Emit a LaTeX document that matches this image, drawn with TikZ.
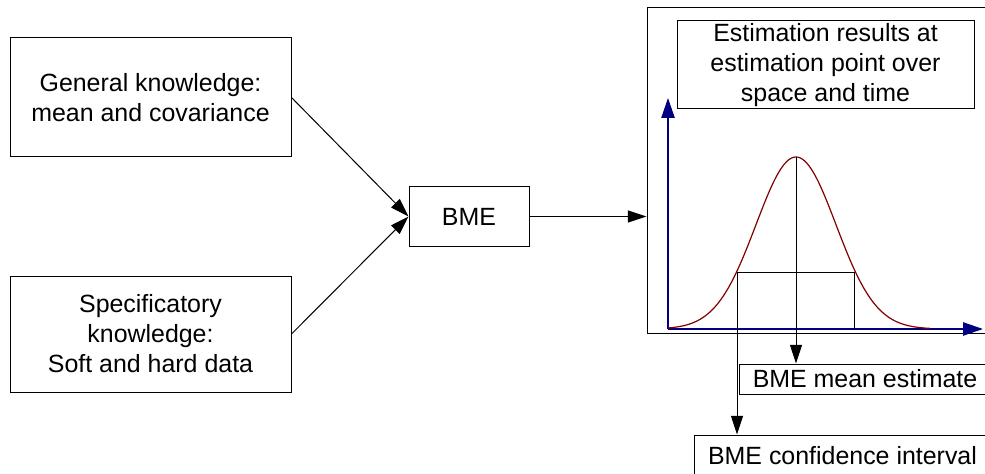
\documentclass[tikz,border=0pt]{standalone}
\usepackage{fontspec}
\setmainfont{Liberation Sans}
\usetikzlibrary{arrows.meta}
\definecolor{axisblue}{RGB}{0,0,128}
\definecolor{curvered}{RGB}{128,0,0}

\begin{document}
\begin{tikzpicture}[x=0.75pt,y=-0.75pt,
  box/.style={draw,line width=0.75pt,align=center,inner sep=0pt,
    font=\fontsize{18.7}{22.5}\selectfont},
  arr/.style={line width=0.75pt,-{Triangle[length=14pt,width=9pt]}},
  axis/.style={axisblue,line width=1.1pt,-{Triangle[length=15pt,width=10pt]}}]
  \useasboundingbox (0,0) rectangle (985,474);

  \node[box,minimum width=210.75pt,minimum height=89.25pt] (general) at (150.5,97.5)
    {General knowledge:\\mean and covariance};
  \node[box,minimum width=210.75pt,minimum height=87pt] (specific) at (150.5,334)
    {Specificatory\\knowledge:\\Soft and hard data};
  \node[box,minimum width=90pt,minimum height=44.25pt] (bme) at (469,216.5) {BME};
  \node[box,minimum width=261pt,minimum height=243.75pt] (result) at (821,170.5) {};
  \node[box,minimum width=222.75pt,minimum height=66pt] (title) at (825.5,65)
    {Estimation results at\\estimation point over\\space and time};
  \node[box,minimum width=189pt,minimum height=22.5pt] (mean) at (865,379) {BME mean estimate};
  \node[box,minimum width=222.75pt,minimum height=31.5pt] (conf) at (842.5,456) {BME confidence interval};

  \draw[arr] (general.east) -- (bme.west);
  \draw[arr] (specific.east) -- (bme.west);
  \draw[arr] (bme.east) -- (bme.east -| result.west);

  % axes of the density plot
  \coordinate (origin) at (668,329);
  \draw[axis] (origin) -- (668,98);
  \draw[axis] (origin) -- (983,329);
  \draw[curvered,line width=0.9pt] plot[domain=668:930,samples=120,smooth]
    (\x,{329-172*exp(-((\x-796)/40)^2/2)});

  \coordinate (peak) at (796,157);
  \coordinate (ciL) at (737,272);
  \coordinate (ciR) at (854,272);
  \draw[line width=0.75pt] (ciL) -- (ciR) -- (ciR |- origin);
  \draw[arr] (peak) -- (peak |- mean.north);
  \draw[arr] (ciL) -- (ciL |- conf.north);
\end{tikzpicture}
\end{document}
